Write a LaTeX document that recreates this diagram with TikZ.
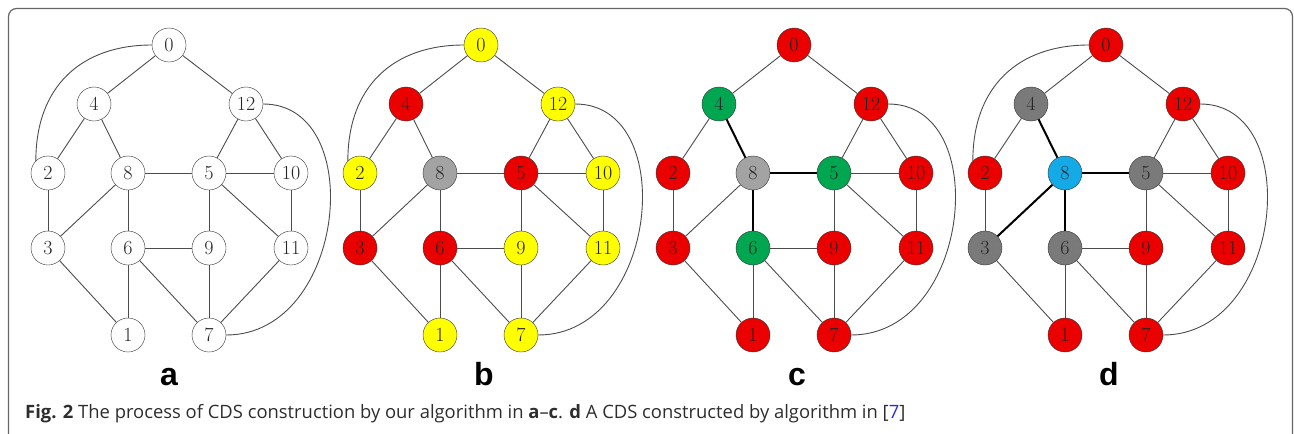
\documentclass[tikz,border=0pt]{standalone}
\usepackage{fontspec}
\newfontfamily\capfont{Open Sans}
\newfontfamily\labfont{Liberation Sans}
\usepackage{tikz}
\usetikzlibrary{calc}

\definecolor{vred}{RGB}{235,0,0}
\definecolor{vyellow}{RGB}{255,255,0}
\definecolor{vgray}{RGB}{163,163,163}
\definecolor{vdark}{RGB}{122,122,122}
\definecolor{vgreen}{RGB}{0,166,80}
\definecolor{vblue}{RGB}{20,170,230}
\definecolor{capgray}{RGB}{45,45,45}
\definecolor{linkblue}{RGB}{40,40,235}

\tikzset{
  vtx/.style={circle, draw=black!80, fill=white, minimum size=34pt, inner sep=0pt,
    text=black!85, font=\fontsize{20}{20}\selectfont},
  link/.style={draw=black!70, line width=0.9pt},
  cds/.style={draw=black, line width=2pt},
  panel/.style={font=\labfont\bfseries\fontsize{32}{32}\selectfont, anchor=base, inner sep=0pt},
}

\begin{document}
\begin{tikzpicture}[x=1pt, y=-1pt]
  \useasboundingbox (0,0) rectangle (1294,434);
  \clip (0,0) rectangle (1294,434);
  \draw[black!60, line width=1.2pt, rounded corners=8pt] (8.5,8.5) rectangle (1292.5,470);

  % vertex places of panel a, the other panels are shifted copies
  \coordinate (p0) at (169,45);
  \coordinate (p4) at (94,104);
  \coordinate (p12) at (246,104);
  \coordinate (p2) at (48,173);
  \coordinate (p8) at (128,173);
  \coordinate (p5) at (209,173);
  \coordinate (p10) at (291,173);
  \coordinate (p3) at (48,248);
  \coordinate (p6) at (128,248);
  \coordinate (p9) at (209,248);
  \coordinate (p11) at (291,248);
  \coordinate (p1) at (128,335);
  \coordinate (p7) at (209,335);

  % a: the graph
  \foreach \n in {0,...,12}
    \node[vtx] (a\n) at (p\n) {\n};
  % b
  \foreach \n/\c in {0/vyellow,1/vyellow,2/vyellow,3/vred,4/vred,5/vred,6/vred,
                     7/vyellow,8/vgray,9/vyellow,10/vyellow,11/vyellow,12/vyellow}
    \node[vtx, fill=\c] (b\n) at ($(p\n)+(312,0)$) {\n};
  % c
  \foreach \n/\c in {0/vred,1/vred,2/vred,3/vred,4/vgreen,5/vgreen,6/vgreen,
                     7/vred,8/vgray,9/vred,10/vred,11/vred,12/vred}
    \node[vtx, fill=\c] (c\n) at ($(p\n)+(625,0)$) {\n};
  % d
  \foreach \n/\c in {0/vred,1/vred,2/vred,3/vdark,4/vdark,5/vdark,6/vdark,
                     7/vred,8/vblue,9/vred,10/vred,11/vred,12/vred}
    \node[vtx, fill=\c] (d\n) at ($(p\n)+(937,0)$) {\n};

  % edges
  \foreach \p in {a,b,c,d}{
    \foreach \s/\t in {0/4,0/12,4/2,4/8,12/5,12/10,2/3,8/5,8/3,8/6,5/10,
                       5/9,5/11,10/11,3/1,6/9,6/1,6/7,9/7,11/7}
      \draw[link] (\p\s) -- (\p\t);
    \draw[link] (\p12.east) .. controls +(105,0) and +(120,0) .. (\p7.east);
  }
  \foreach \p in {a,b,d}
    \draw[link] (\p0.west) .. controls +(-70,0) and +(0,-75) .. (\p2.135);
  \foreach \p/\t in {c/4,c/5,c/6,d/4,d/5,d/6,d/3}
    \draw[cds] (\p8) -- (\p\t);

  \node[panel] (laba) at (169,385) {a};
  \node[panel] (labb) at (484,385) {b};
  \node[panel] (labc) at (797,385) {c};
  \node[panel] (labd) at (1109,385) {d};

  \node[anchor=base west, inner sep=0pt, text=capgray,
        font=\capfont\fontsize{18.4}{18.4}\selectfont] (cap) at (25,418)
    {\textbf{Fig. 2} The process of CDS construction by our algorithm in \textbf{a}\textendash\textbf{c}.
     \textbf{d} A CDS constructed by algorithm in [\textcolor{linkblue}{7}]};
\end{tikzpicture}
\end{document}
